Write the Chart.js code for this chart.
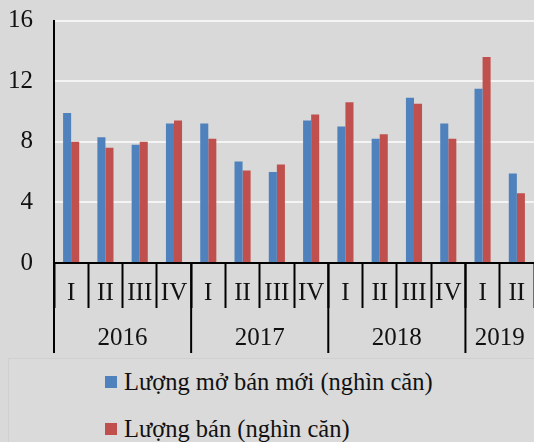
<!DOCTYPE html>
<html>
<head>
<meta charset="utf-8">
<script src="https://cdn.jsdelivr.net/npm/chart.js@4/dist/chart.umd.min.js"></script>
<style>
  html, body { margin: 0; padding: 0; background: #d9d9d9; }
  #wrap { position: relative; width: 534px; height: 442px; overflow: hidden; background: #d9d9d9; }
  #box { position: absolute; left: 0; top: 0; width: 534px; height: 357px; }
  #legend { position: absolute; left: 8px; top: 358px; width: 530px; height: 90px;
            border: 1px solid #d0d0d0; background: #dadada; box-sizing: border-box;
            font-family: "Liberation Serif", "DejaVu Serif", serif; font-size: 24.5px; color: #111; }
  .item { position: absolute; left: 96px; height: 26px; line-height: 26px; white-space: nowrap; }
  .sw { display: inline-block; width: 12px; height: 12px; vertical-align: middle; margin-right: 7px; position: relative; top: -2px; }
</style>
</head>
<body>
<div id="wrap">
  <div id="box"><canvas id="c"></canvas></div>
  <div id="legend"></div>
</div>
<script>
const quarters = ['I','II','III','IV','I','II','III','IV','I','II','III','IV','I','II'];
const years = ['2016','2017','2018','2019'];
const yearSizes = [4, 4, 4, 2];
const openNew = [9.9, 8.3, 7.8, 9.2, 9.2, 6.7, 6.0, 9.4, 9.0, 8.2, 10.9, 9.2, 11.5, 5.9];
const sold = [8.0, 7.6, 8.0, 9.4, 8.2, 6.1, 6.5, 9.8, 10.6, 8.5, 10.5, 8.2, 13.6, 4.6];
const seriesNames = ['Lượng mở bán mới (nghìn căn)', 'Lượng bán (nghìn căn)'];
const yTicks = [0, 4, 8, 12, 16];

const FONT = '"Liberation Serif", "DejaVu Serif", serif';
const FS = 25;

const yearPlugin = {
  id: 'yearPlugin',
  afterDraw(chart) {
    const x = chart.scales.x;
    const ctx = chart.ctx;
    ctx.save();
    ctx.strokeStyle = '#000';
    ctx.lineWidth = 2;
    ctx.fillStyle = '#111';
    ctx.font = FS + 'px ' + FONT;
    ctx.textAlign = 'center';
    ctx.textBaseline = 'middle';
    const half = (x.getPixelForValue(1) - x.getPixelForValue(0)) / 2;
    let idx = 0;
    years.forEach((yr, i) => {
      const first = idx, last = idx + yearSizes[i] - 1;
      const left = x.getPixelForValue(first) - half;
      ctx.beginPath();
      ctx.moveTo(left, x.top);
      ctx.lineTo(left, x.top + 90);
      ctx.stroke();
      const cx = (x.getPixelForValue(first) + x.getPixelForValue(last)) / 2;
      ctx.fillText(yr, cx, x.top + 75);
      idx += yearSizes[i];
    });
    ctx.restore();
  }
};

const chart = new Chart(document.getElementById('c'), {
  type: 'bar',
  data: {
    labels: quarters,
    datasets: [
      { label: seriesNames[0], data: openNew, backgroundColor: '#4f81bd', barPercentage: 1, categoryPercentage: 0.47 },
      { label: seriesNames[1], data: sold, backgroundColor: '#c0504d', barPercentage: 1, categoryPercentage: 0.47 }
    ]
  },
  options: {
    responsive: true,
    maintainAspectRatio: false,
    animation: false,
    layout: { padding: { top: 20.5, right: 0, left: 0, bottom: 0 } },
    plugins: { legend: { display: false }, tooltip: { enabled: false } },
    scales: {
      x: {
        grid: { display: true, drawOnChartArea: false, offset: true, tickLength: 45, tickColor: '#000', tickWidth: 2, color: '#000' },
        border: { display: true, color: '#000', width: 2 },
        ticks: { color: '#111', font: { family: FONT, size: FS }, padding: -30, maxRotation: 0, autoSkip: false },
        afterFit(s) { s.height = 94; s.paddingLeft = 0; s.paddingRight = 0; }
      },
      y: {
        min: 0, max: 16,
        afterBuildTicks(s) { s.ticks = yTicks.map(v => ({ value: v })); },
        grid: { color: (c) => c.tick && c.tick.value === 0 ? 'rgba(0,0,0,0)' : '#f4f4f4', lineWidth: 2, drawTicks: false },
        border: { display: true, color: '#000', width: 2 },
        ticks: { color: '#111', font: { family: FONT, size: FS }, padding: 21 },
        afterFit(s) { s.width = 54; s.paddingTop = 0; s.paddingBottom = 0; }
      }
    }
  },
  plugins: [yearPlugin]
});

const lg = document.getElementById('legend');
chart.data.datasets.forEach((ds, i) => {
  const d = document.createElement('div');
  d.className = 'item';
  d.style.top = (10 + i * 47) + 'px';
  const sw = document.createElement('span');
  sw.className = 'sw';
  sw.style.background = ds.backgroundColor;
  d.appendChild(sw);
  d.appendChild(document.createTextNode(ds.label));
  lg.appendChild(d);
});
</script>
</body>
</html>
